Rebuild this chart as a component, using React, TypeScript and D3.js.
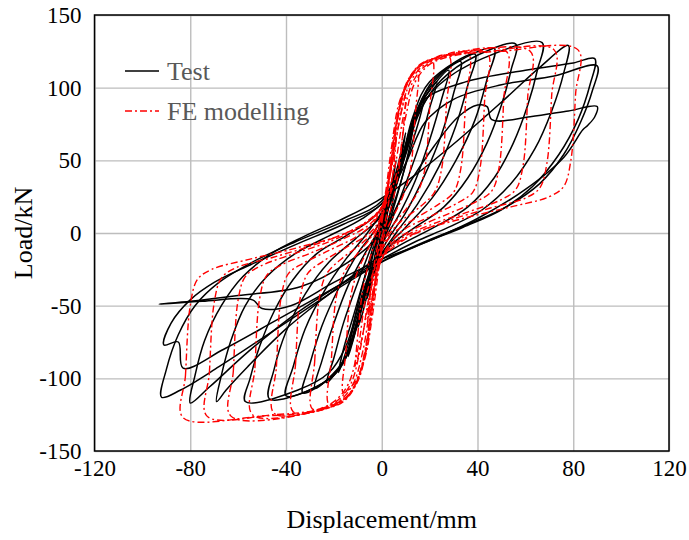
import React, { useEffect, useRef } from "react"
import * as d3 from "d3"

type Pt = [number, number]

// axis ticks
const xTicks = [-120, -80, -40, 0, 40, 80, 120]
const yTicks = [-150, -100, -50, 0, 50, 100, 150]

// Test loops (displacement mm, load kN), smallest to largest
const testLoop1: Pt[] = [[3, 30], [1.5, 12], [0, -4], [-1.5, -16], [-3, -28], [-1.5, -12], [0, 4], [1.5, 16]]
const testLoop2: Pt[] = [[6, 50], [4, 30], [2, 10], [0, -6], [-2, -18], [-4, -32], [-6, -45], [-4, -26], [-2, -8], [0, 6], [2, 18], [4, 34]]
const testLoop3: Pt[] = [[10, 69], [8, 50], [5, 25], [2, 3], [0, -10], [-3, -25], [-6, -42], [-8, -55], [-10, -65], [-8, -48], [-5, -25], [-2, -3], [0, 10], [3, 25], [6, 42], [8, 55]]
const testLoop4: Pt[] = [[14, 83], [12, 62], [8, 35], [4, 12], [0, -8], [-4, -28], [-8, -50], [-11, -68], [-14, -85], [-12, -64], [-8, -36], [-4, -12], [0, 8], [4, 28], [8, 50], [11, 66]]
const testLoop5: Pt[] = [[18, 94], [16, 80], [12, 58], [7, 30], [2, 6], [-3, -18], [-8, -44], [-12, -66], [-15, -82], [-18, -96], [-16, -80], [-12, -58], [-7, -30], [-2, -6], [3, 18], [8, 44], [12, 66], [15, 82]]
const testLoop6: Pt[] = [[23, 104], [20, 86], [16, 62], [10, 34], [4, 8], [-2, -16], [-7, -42], [-11, -66], [-16, -88], [-23, -103], [-20, -86], [-16, -62], [-10, -34], [-4, -8], [2, 16], [7, 42], [11, 66], [16, 88]]
const testLoop7: Pt[] = [[28, 112], [25, 92], [20, 64], [14, 36], [7, 12], [0, -8], [-6, -34], [-11, -64], [-16, -88], [-28, -107], [-25, -88], [-20, -62], [-14, -36], [-7, -14], [0, 6], [6, 32], [11, 62], [16, 88]]
const testLoop8: Pt[] = [[33, 118], [30, 96], [25, 68], [18, 40], [10, 14], [2, -6], [-5, -30], [-10, -60], [-15, -86], [-22, -100], [-33, -110], [-30, -90], [-25, -64], [-18, -38], [-10, -14], [-2, 4], [5, 28], [10, 58], [15, 86], [22, 106]]
const testLoop9: Pt[] = [[39, 123], [36, 102], [31, 74], [24, 46], [15, 20], [6, 0], [-2, -20], [-8, -48], [-13, -78], [-20, -98], [-40, -112], [-37, -92], [-32, -66], [-24, -40], [-15, -18], [-6, 0], [2, 20], [8, 48], [13, 80], [20, 104]]
const testLoop10: Pt[] = [[47, 127], [44, 106], [39, 78], [31, 50], [21, 24], [10, 4], [0, -14], [-7, -42], [-12, -72], [-19, -96], [-30, -108], [-47, -114], [-45, -94], [-40, -68], [-32, -42], [-22, -20], [-11, -4], [0, 12], [7, 40], [12, 72], [19, 98], [30, 116]]
const testLoop11: Pt[] = [[56, 130], [54, 112], [50, 88], [44, 62], [36, 38], [26, 18], [14, 4], [4, -8], [-4, -24], [-10, -52], [-15, -78], [-22, -96], [-35, -108], [-57, -116], [-55, -100], [-51, -78], [-45, -54], [-37, -32], [-27, -14], [-15, -2], [-4, 10], [4, 26], [10, 54], [15, 80], [22, 100], [35, 118]]
const testLoop12: Pt[] = [[67, 131], [65, 112], [61, 88], [55, 62], [47, 38], [36, 18], [22, 4], [8, -8], [-6, -22], [-22, -42], [-40, -66], [-56, -92], [-65, -108], [-69, -116], [-67, -98], [-63, -74], [-57, -50], [-48, -30], [-36, -14], [-22, -2], [-8, 10], [2, 24], [9, 52], [15, 82], [24, 102], [42, 120]]
const testLoop13: Pt[] = [[78, 129], [76, 110], [71, 84], [64, 58], [54, 34], [42, 16], [28, 4], [14, -6], [0, -18], [-18, -36], [-38, -58], [-56, -82], [-72, -106], [-80, -117], [-78, -98], [-74, -74], [-67, -50], [-58, -30], [-46, -14], [-32, -2], [-16, 10], [-2, 22], [14, 40], [32, 64], [50, 90], [66, 114]]
const testLoop14: Pt[] = [[89, 120], [87, 102], [82, 78], [74, 54], [63, 32], [50, 16], [34, 4], [16, -8], [0, -20], [-20, -40], [-44, -66], [-68, -92], [-84, -108], [-92, -113], [-90, -94], [-85, -70], [-78, -50], [-68, -34], [-54, -20], [-36, -6], [-16, 8], [0, 22], [8, 50], [14, 78], [18, 92], [35, 104], [60, 112], [80, 117]]
const testLoop15: Pt[] = [[90, 115], [88, 98], [83, 76], [76, 54], [66, 34], [52, 18], [36, 6], [18, -6], [2, -18], [-20, -38], [-44, -60], [-66, -80], [-83, -93], [-85, -75], [-91, -77], [-88, -62], [-80, -46], [-70, -34], [-55, -22], [-36, -8], [-16, 6], [0, 20], [10, 48], [18, 76], [30, 92], [50, 102], [72, 108]]
const testLoop16: Pt[] = [[90, 87], [89, 80], [86, 74], [84, 71], [76, 52], [60, 30], [40, 10], [16, -8], [0, -18], [-20, -34], [-38, -50], [-50, -52], [-54, -46], [-75, -47], [-93, -49], [-80, -47], [-60, -43], [-34, -37], [-14, -20], [0, 0], [10, 30], [22, 60], [32, 80], [40, 88], [44, 87], [46, 78], [62, 80], [78, 84]]

// FE modelling loops
const feLoop1: Pt[] = [[-6, -62], [-5, -44], [-3, -20], [-1, -2], [1, 16], [3, 36], [5, 54], [6, 66], [5, 46], [3, 22], [1, 4], [-1, -14], [-3, -34], [-5, -50]]
const feLoop2: Pt[] = [[-11, -92], [-10, -70], [-8, -40], [-5, -18], [-2, -2], [1, 16], [4, 46], [7, 74], [10, 96], [9, 72], [7, 42], [4, 18], [1, 2], [-2, -16], [-5, -44], [-8, -70]]
const feLoop3: Pt[] = [[-16, -110], [-15, -82], [-13, -44], [-10, -26], [-6, -12], [-2, 2], [1, 22], [4, 58], [7, 88], [11, 104], [15, 112], [14, 82], [12, 44], [9, 26], [5, 12], [1, -2], [-1, -22], [-4, -58], [-7, -86], [-11, -102]]
const feLoop4: Pt[] = [[-22, -118], [-21, -86], [-19, -44], [-16, -28], [-11, -16], [-5, -4], [0, 10], [3, 40], [6, 76], [10, 102], [15, 114], [21, 119], [20, 86], [18, 44], [15, 28], [10, 16], [4, 4], [0, -10], [-3, -40], [-6, -76], [-10, -102], [-15, -113]]
const feLoop5: Pt[] = [[-29, -121], [-28, -88], [-26, -44], [-23, -28], [-17, -18], [-9, -8], [-2, 4], [2, 26], [5, 64], [9, 96], [14, 112], [20, 119], [28, 122], [27, 88], [25, 44], [22, 28], [16, 18], [8, 8], [2, -4], [-2, -26], [-5, -64], [-9, -96], [-14, -112], [-20, -118]]
const feLoop6: Pt[] = [[-37, -123], [-36, -90], [-34, -44], [-31, -28], [-25, -20], [-15, -10], [-5, 0], [0, 12], [3, 36], [6, 72], [10, 100], [15, 114], [22, 120], [36, 124], [35, 90], [33, 44], [30, 28], [24, 20], [14, 10], [5, 0], [0, -12], [-3, -36], [-6, -72], [-10, -100], [-15, -114], [-22, -120]]
const feLoop7: Pt[] = [[-45, -124], [-44, -92], [-42, -44], [-39, -28], [-33, -21], [-22, -12], [-10, -2], [-3, 8], [1, 22], [4, 50], [7, 84], [11, 105], [16, 116], [24, 121], [44, 124], [43, 92], [41, 44], [38, 28], [32, 21], [21, 12], [9, 2], [3, -8], [-1, -22], [-4, -50], [-7, -84], [-11, -105], [-16, -116], [-24, -121]]
const feLoop8: Pt[] = [[-54, -125], [-53, -93], [-51, -45], [-48, -29], [-42, -22], [-30, -14], [-16, -4], [-5, 6], [0, 18], [4, 46], [7, 82], [11, 104], [17, 116], [26, 122], [52, 125], [51, 93], [49, 45], [46, 29], [40, 22], [29, 14], [15, 4], [5, -6], [0, -18], [-4, -46], [-7, -82], [-11, -104], [-17, -116], [-26, -122]]
const feLoop9: Pt[] = [[-63, -126], [-62, -95], [-60, -46], [-57, -30], [-51, -23], [-38, -15], [-22, -6], [-8, 5], [0, 18], [4, 44], [8, 82], [12, 104], [18, 116], [28, 122], [62, 125], [61, 94], [59, 46], [56, 30], [50, 23], [37, 15], [21, 6], [7, -5], [0, -18], [-4, -44], [-8, -82], [-12, -104], [-18, -116], [-28, -123]]
const feLoop10: Pt[] = [[-73, -126], [-72, -96], [-70, -48], [-67, -31], [-61, -24], [-46, -17], [-28, -8], [-10, 4], [0, 18], [5, 42], [9, 80], [13, 104], [19, 116], [28, 122], [45, 125], [72, 126], [71, 95], [69, 48], [66, 31], [60, 24], [45, 17], [27, 8], [10, -4], [0, -18], [-5, -42], [-9, -80], [-13, -104], [-19, -116], [-28, -122], [-45, -125]]
const feLoop11: Pt[] = [[-83, -127], [-82, -98], [-80, -50], [-77, -32], [-71, -25], [-55, -18], [-35, -10], [-15, 0], [0, 16], [6, 40], [10, 80], [14, 104], [20, 116], [30, 122], [50, 125], [82, 126], [81, 96], [79, 50], [76, 32], [70, 25], [54, 18], [34, 10], [14, 0], [0, -16], [-6, -40], [-10, -80], [-14, -104], [-20, -116], [-30, -123], [-50, -126]]

const testLoops = [testLoop1, testLoop2, testLoop3, testLoop4, testLoop5, testLoop6, testLoop7, testLoop8,
    testLoop9, testLoop10, testLoop11, testLoop12, testLoop13, testLoop14, testLoop15, testLoop16]
const feLoops = [feLoop1, feLoop2, feLoop3, feLoop4, feLoop5, feLoop6, feLoop7, feLoop8, feLoop9, feLoop10, feLoop11]

const FONT = "'Liberation Serif', 'Times New Roman', serif"

const App = () => {
    const ref = useRef<SVGSVGElement | null>(null)

    useEffect(() => {
        if (!ref.current) return
        const svg = d3.select(ref.current)
        svg.selectAll("*").remove()

        const left = 94.5, right = 669, top = 15, bottom = 451
        const x = d3.scaleLinear().domain([-120, 120]).range([left, right])
        const y = d3.scaleLinear().domain([-150, 150]).range([bottom, top])

        // gridlines + tick labels (plain hyphen minus like the original)
        const xAxis = svg.append("g")
            .attr("transform", "translate(0," + bottom + ")")
            .call(d3.axisBottom(x).tickValues(xTicks).tickFormat((d) => String(d))
                .tickSizeInner(-(bottom - top)).tickSizeOuter(0).tickPadding(9))
        const yAxis = svg.append("g")
            .attr("transform", "translate(" + left + ",0)")
            .call(d3.axisLeft(y).tickValues(yTicks).tickFormat((d) => String(d))
                .tickSizeInner(-(right - left)).tickSizeOuter(0).tickPadding(13))
        ;[xAxis, yAxis].forEach((a) => {
            a.select(".domain").remove()
            a.selectAll("line").attr("stroke", "#bdbdbd").attr("stroke-width", 1.4)
            a.selectAll("text").attr("font-family", FONT).attr("font-size", 23).attr("fill", "#000")
        })

        const line = d3.line<Pt>()
            .x((d) => x(d[0]))
            .y((d) => y(d[1]))
            .curve(d3.curveCatmullRomClosed.alpha(0.5))

        const plot = svg.append("g")
        plot.selectAll("path.test")
            .data(testLoops)
            .enter()
            .append("path")
            .attr("class", "test")
            .attr("d", (d) => line(d))
            .attr("fill", "none")
            .attr("stroke", "#000")
            .attr("stroke-width", 1.5)

        plot.selectAll("path.fe")
            .data(feLoops)
            .enter()
            .append("path")
            .attr("class", "fe")
            .attr("d", (d) => line(d))
            .attr("fill", "none")
            .attr("stroke", "#ff0000")
            .attr("stroke-width", 1.4)
            .attr("stroke-dasharray", "7,3,2,3")

        // frame
        svg.append("rect")
            .attr("x", left).attr("y", top)
            .attr("width", right - left).attr("height", bottom - top)
            .attr("fill", "none").attr("stroke", "#000").attr("stroke-width", 1.5)

        // legend
        const legend = svg.append("g")
        legend.append("line").attr("x1", 125).attr("x2", 159).attr("y1", 71).attr("y2", 71)
            .attr("stroke", "#000").attr("stroke-width", 1.5)
        legend.append("line").attr("x1", 125).attr("x2", 159).attr("y1", 111).attr("y2", 111)
            .attr("stroke", "#ff0000").attr("stroke-width", 1.5).attr("stroke-dasharray", "7,3,2,3")
        legend.append("text").attr("x", 167).attr("y", 80).text("Test")
            .attr("font-family", FONT).attr("font-size", 26).attr("fill", "#595959")
        legend.append("text").attr("x", 167).attr("y", 120).text("FE modelling")
            .attr("font-family", FONT).attr("font-size", 26).attr("fill", "#595959")

        // axis titles
        svg.append("text").attr("x", (left + right) / 2).attr("y", 528)
            .attr("text-anchor", "middle").attr("font-family", FONT).attr("font-size", 26)
            .text("Displacement/mm")
        svg.append("text").attr("transform", "translate(32," + (top + bottom) / 2 + ") rotate(-90)")
            .attr("text-anchor", "middle").attr("font-family", FONT).attr("font-size", 26)
            .text("Load/kN")
    }, [])

    return (
        <div style={{ position: "absolute", left: 0, top: 0 }}>
            <svg ref={ref} width={689} height={540} style={{ display: "block", background: "#fff" }} />
        </div>
    )
}

export default App
